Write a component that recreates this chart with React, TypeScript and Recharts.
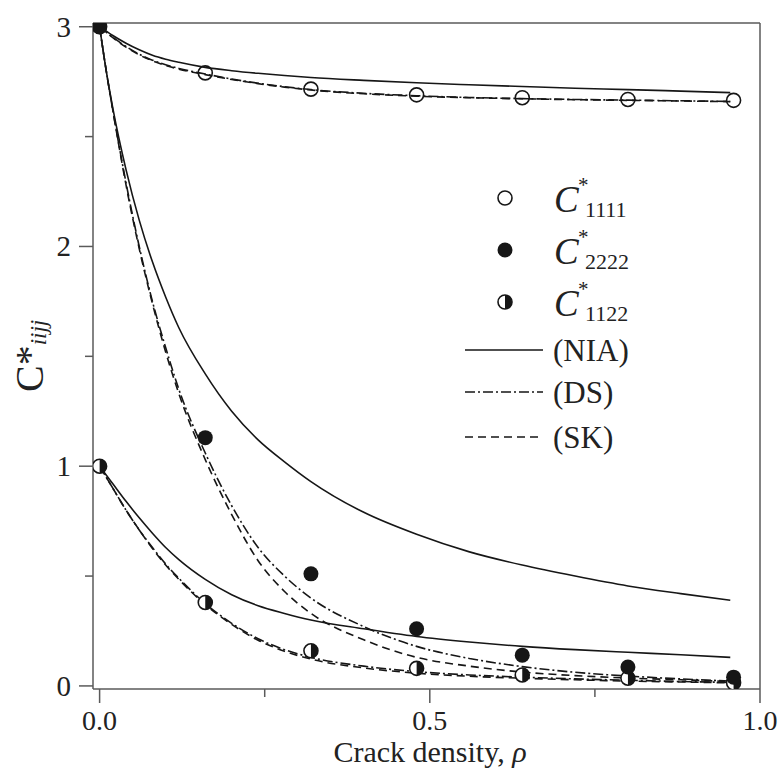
import React from 'react';
import {
  ComposedChart,
  Line,
  Scatter,
  XAxis,
  YAxis,
  ReferenceLine,
  Legend,
} from 'recharts';

// model curves, sampled on a common crack density grid
const curveX = [0, 0.01, 0.02, 0.04, 0.06, 0.08, 0.1, 0.12, 0.16, 0.2, 0.24, 0.28, 0.32, 0.4, 0.48, 0.56, 0.64, 0.72, 0.8, 0.88, 0.955];

const c1111Nia = [3, 2.98, 2.96, 2.925, 2.895, 2.87, 2.852, 2.838, 2.815, 2.8, 2.788, 2.778, 2.769, 2.756, 2.745, 2.736, 2.728, 2.72, 2.714, 2.707, 2.7];
const c1111Ds = [3, 2.975, 2.952, 2.91, 2.875, 2.848, 2.827, 2.81, 2.785, 2.762, 2.743, 2.727, 2.714, 2.697, 2.686, 2.678, 2.673, 2.669, 2.666, 2.663, 2.66];
const c1111Sk = [3, 2.974, 2.95, 2.907, 2.872, 2.845, 2.824, 2.807, 2.782, 2.76, 2.741, 2.725, 2.712, 2.695, 2.684, 2.677, 2.672, 2.668, 2.665, 2.662, 2.659];

const c2222Nia = [3, 2.8, 2.63, 2.35, 2.12, 1.93, 1.77, 1.63, 1.42, 1.25, 1.12, 1.02, 0.93, 0.79, 0.69, 0.61, 0.55, 0.5, 0.455, 0.42, 0.39];
const c2222Ds = [3, 2.8, 2.62, 2.29, 2.0, 1.75, 1.54, 1.35, 1.06, 0.82, 0.63, 0.5, 0.4, 0.27, 0.18, 0.125, 0.088, 0.062, 0.045, 0.032, 0.022];
const c2222Sk = [3, 2.8, 2.62, 2.28, 1.99, 1.74, 1.52, 1.33, 1.03, 0.78, 0.57, 0.43, 0.33, 0.21, 0.13, 0.09, 0.063, 0.047, 0.036, 0.028, 0.02];

const c1122Nia = [1, 0.96, 0.92, 0.84, 0.765, 0.695, 0.63, 0.575, 0.485, 0.415, 0.365, 0.33, 0.3, 0.26, 0.225, 0.2, 0.18, 0.165, 0.153, 0.142, 0.13];
const c1122Ds = [1, 0.95, 0.9, 0.8, 0.71, 0.63, 0.555, 0.49, 0.375, 0.285, 0.215, 0.165, 0.13, 0.09, 0.065, 0.05, 0.04, 0.032, 0.026, 0.02, 0.016];
const c1122Sk = [1, 0.95, 0.9, 0.8, 0.71, 0.625, 0.55, 0.485, 0.37, 0.28, 0.208, 0.158, 0.122, 0.082, 0.058, 0.044, 0.035, 0.028, 0.022, 0.018, 0.014];

// simulation points
const markerX = [0, 0.16, 0.32, 0.48, 0.64, 0.8, 0.96];
const m1111 = [3, 2.79, 2.716, 2.69, 2.677, 2.669, 2.665];
const m2222 = [3, 1.13, 0.51, 0.26, 0.14, 0.086, 0.04];
const m1122 = [1, 0.38, 0.16, 0.08, 0.05, 0.035, 0.014];

const xTicks = [0, 0.25, 0.5, 0.75, 1.0];
const xTickLabels: Record<string, string> = { '0': '0.0', '0.5': '0.5', '1': '1.0' };
const yTicks = [0, 0.5, 1, 1.5, 2, 2.5, 3];
const yTickLabels: Record<string, string> = { '0': '0', '1': '1', '2': '2', '3': '3' };

const markerNames = ['1111', '2222', '1122'];
const lineNames = ['(NIA)', '(DS)', '(SK)'];

const toPoints = (xs: number[], ys: number[]) => xs.map((x, i) => ({ x, y: ys[i] }));

const INK = '#161616';
const AXIS = '#5a5a5a';
const SERIF = '"Liberation Serif", "Times New Roman", serif';
const DS_DASH = '10 3 2 3';
const SK_DASH = '8 5';

const OpenDot = (props: any) => (
  <circle cx={props.cx} cy={props.cy} r={7} fill="none" stroke={INK} strokeWidth={1.6} />
);
const FilledDot = (props: any) => (
  <circle cx={props.cx} cy={props.cy} r={7.5} fill={INK} />
);
const HalfDot = (props: any) => {
  const { cx, cy } = props;
  const r = 7;
  return (
    <g>
      <circle cx={cx} cy={cy} r={r} fill="#fff" stroke={INK} strokeWidth={1.6} />
      <path d={`M${cx},${cy - r} A${r},${r} 0 0 1 ${cx},${cy + r} Z`} fill={INK} />
    </g>
  );
};

const XTick = (props: any) => {
  const { x, y, payload } = props;
  const label = xTickLabels[String(payload.value)];
  const major = label !== undefined;
  return (
    <g>
      <line x1={x} x2={x} y1={y} y2={y + (major ? 14 : 8)} stroke={AXIS} strokeWidth={1.5} />
      {major && (
        <text x={x} y={y + 41} textAnchor="middle" fontSize={28} fontFamily={SERIF} fill="#222">
          {label}
        </text>
      )}
    </g>
  );
};

const YTick = (props: any) => {
  const { x, y, payload } = props;
  const label = yTickLabels[String(payload.value)];
  const major = label !== undefined;
  return (
    <g>
      <line x1={x} x2={x - (major ? 14 : 8)} y1={y} y2={y} stroke={AXIS} strokeWidth={1.5} />
      {major && (
        <text x={x - 22} y={y + 10} textAnchor="end" fontSize={29} fontFamily={SERIF} fill="#222">
          {label}
        </text>
      )}
    </g>
  );
};

const YLabel = () => (
  <text x={43} y={392} transform="rotate(-90 43 392)" fontFamily={SERIF} fill="#222">
    <tspan fontSize={40}>C*</tspan>
    <tspan fontSize={23} fontStyle="italic" dy={3}>iijj</tspan>
  </text>
);

const XLabel = () => (
  <text x={430} y={762} textAnchor="middle" fontSize={30} fontFamily={SERIF} fill="#222">
    Crack density, <tspan fontStyle="italic">ρ</tspan>
  </text>
);

const markerShapes = [OpenDot, FilledDot, HalfDot];
const lineDashes = [undefined, DS_DASH, SK_DASH];

const LegendBox = () => (
  <svg width={200} height={300} style={{ display: 'block', overflow: 'visible' }}>
    {markerNames.map((name, i) => {
      const Shape = markerShapes[i];
      const base = 42 + i * 52;
      return (
        <g key={name}>
          <Shape cx={45} cy={base - 14} />
          <text x={94} y={base} fontFamily={SERIF} fill="#222">
            <tspan fontSize={37} fontStyle="italic">C</tspan>
          </text>
          <text x={118} y={base - 20} fontSize={21} fontFamily={SERIF} fill="#222">*</text>
          <text x={125} y={base + 5} fontSize={22} fontFamily={SERIF} fill="#222">{name}</text>
        </g>
      );
    })}
    {lineNames.map((name, i) => {
      const cy = [180, 222, 267][i];
      return (
        <g key={name}>
          <line x1={5} x2={83} y1={cy} y2={cy} stroke={INK} strokeWidth={1.6} strokeDasharray={lineDashes[i]} />
          <text x={93} y={cy + 11} fontSize={31} fontFamily={SERIF} fill="#222">{name}</text>
        </g>
      );
    })}
  </svg>
);

const curves = [
  { key: '1111-nia', ys: c1111Nia, dash: undefined },
  { key: '1111-ds', ys: c1111Ds, dash: DS_DASH },
  { key: '1111-sk', ys: c1111Sk, dash: SK_DASH },
  { key: '2222-nia', ys: c2222Nia, dash: undefined },
  { key: '2222-ds', ys: c2222Ds, dash: DS_DASH },
  { key: '2222-sk', ys: c2222Sk, dash: SK_DASH },
  { key: '1122-nia', ys: c1122Nia, dash: undefined },
  { key: '1122-ds', ys: c1122Ds, dash: DS_DASH },
  { key: '1122-sk', ys: c1122Sk, dash: SK_DASH },
];

const App: React.FC = () => {
  return (
    <div style={{ position: 'absolute', left: 0, top: 0, width: 780, height: 771, background: '#fff' }}>
      <ComposedChart width={780} height={771} margin={{ top: 23, right: 20, bottom: 0, left: 0 }}>
        <XAxis
          type="number"
          dataKey="x"
          domain={[-0.01, 1.0]}
          ticks={xTicks}
          allowDataOverflow
          height={82}
          tickSize={0}
          tickMargin={0}
          tickLine={false}
          axisLine={{ stroke: AXIS, strokeWidth: 1.5 }}
          tick={<XTick />}
          label={<XLabel />}
        />
        <YAxis
          type="number"
          dataKey="y"
          domain={[-0.014, 3.017]}
          ticks={yTicks}
          allowDataOverflow
          width={93}
          tickSize={0}
          tickMargin={0}
          tickLine={false}
          axisLine={{ stroke: AXIS, strokeWidth: 1.5 }}
          tick={<YTick />}
          label={<YLabel />}
        />
        <ReferenceLine x={1.0} stroke={AXIS} strokeWidth={1.5} />
        <ReferenceLine y={3.017} stroke={AXIS} strokeWidth={1.5} />
        {curves.map(c => (
          <Line
            key={c.key}
            data={toPoints(curveX, c.ys)}
            dataKey="y"
            type="monotone"
            stroke={INK}
            strokeWidth={1.6}
            strokeDasharray={c.dash}
            dot={false}
            activeDot={false}
            isAnimationActive={false}
          />
        ))}
        <Scatter data={toPoints(markerX, m1111)} dataKey="y" shape={<OpenDot />} isAnimationActive={false} />
        <Scatter data={toPoints(markerX, m1122)} dataKey="y" shape={<HalfDot />} isAnimationActive={false} />
        <Scatter data={toPoints(markerX, m2222)} dataKey="y" shape={<FilledDot />} isAnimationActive={false} />
        <Legend
          layout="vertical"
          verticalAlign="middle"
          align="center"
          content={() => <LegendBox />}
          wrapperStyle={{ left: 460, top: 170, width: 200, height: 300 }}
        />
      </ComposedChart>
    </div>
  );
};

export default App;
